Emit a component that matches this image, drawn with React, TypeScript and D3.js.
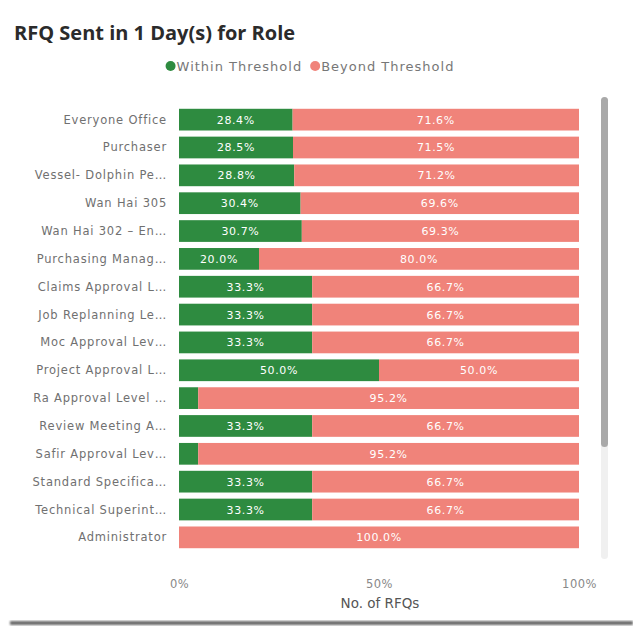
import { useEffect, useRef } from "react";
import * as d3 from "d3";

const roles = [
  "Everyone Office",
  "Purchaser",
  "Vessel- Dolphin Pe…",
  "Wan Hai 305",
  "Wan Hai 302 – En…",
  "Purchasing Manag…",
  "Claims Approval L…",
  "Job Replanning Le…",
  "Moc Approval Lev…",
  "Project Approval L…",
  "Ra Approval Level …",
  "Review Meeting A…",
  "Safir Approval Lev…",
  "Standard Specifica…",
  "Technical Superint…",
  "Administrator",
];
const within = [28.4, 28.5, 28.8, 30.4, 30.7, 20.0, 33.3, 33.3, 33.3, 50.0, 4.8, 33.3, 4.8, 33.3, 33.3, 0];
const beyond = [71.6, 71.5, 71.2, 69.6, 69.3, 80.0, 66.7, 66.7, 66.7, 50.0, 95.2, 66.7, 95.2, 66.7, 66.7, 100.0];
const xTicks = [0, 50, 100];

const GREEN = "#2e8b40";
const RED = "#f0837a";
const TITLE_FONT = "'Open Sans', 'Noto Sans', sans-serif";
const FONT = "'DejaVu Sans', Verdana, sans-serif";

export default function App() {
  const ref = useRef<SVGSVGElement>(null);

  useEffect(() => {
    const el = ref.current;
    if (!el) return;
    const W = 633, H = 629;
    const M = { top: 106, right: 54, bottom: 78, left: 179 };

    const svg = d3.select(el);
    svg.selectAll("*").remove();
    svg.attr("width", W).attr("height", H).attr("viewBox", `0 0 ${W} ${H}`);

    svg.append("rect").attr("width", W).attr("height", H).attr("fill", "#fff");

    // bottom shadow of the card
    const defs = svg.append("defs");
    defs.append("filter").attr("id", "blur").append("feGaussianBlur").attr("stdDeviation", 1.2);
    svg.append("rect")
      .attr("x", 10).attr("y", 621).attr("width", W - 10).attr("height", 4)
      .attr("fill", "#6b6b6b").attr("filter", "url(#blur)");

    // Title
    svg.append("text")
      .attr("x", 14).attr("y", 40)
      .attr("font-family", TITLE_FONT).attr("font-size", 20).attr("font-weight", 700)
      .attr("fill", "#2b2b2b")
      .text("RFQ Sent in 1 Day(s) for Role");

    // Legend, laid out from measured text widths and centred
    const leg = svg.append("g");
    let cx = 0;
    [["Within Threshold", GREEN], ["Beyond Threshold", RED]].forEach(([l, c], i) => {
      if (i > 0) cx += 8;
      leg.append("circle").attr("cx", cx + 5).attr("cy", 0).attr("r", 5).attr("fill", c);
      const t = leg.append("text").attr("x", cx + 11).attr("y", 4.5)
        .attr("font-family", FONT).attr("font-size", 13).attr("letter-spacing", 1)
        .attr("fill", "#777")
        .text(l);
      cx += 11 + (t.node() as SVGTextElement).getComputedTextLength();
    });
    leg.attr("transform", `translate(${310 - cx / 2},66)`);

    const x = d3.scaleLinear().domain([0, 100]).range([M.left, W - M.right]);
    const y = d3.scaleBand()
      .domain(roles)
      .range([M.top, H - M.bottom])
      .paddingInner(0.22)
      .paddingOuter(0.1);

    const rows = roles.map((r, i) => ({ role: r, within: within[i], beyond: beyond[i] }));

    // Y labels
    svg.append("g")
      .selectAll("text")
      .data(rows)
      .join("text")
      .attr("x", M.left - 12)
      .attr("y", (d) => y(d.role)! + y.bandwidth() / 2 + 4)
      .attr("text-anchor", "end")
      .attr("font-family", FONT).attr("font-size", 11.5).attr("letter-spacing", 0.8)
      .attr("fill", "#707070")
      .text((d) => d.role);

    // Within bars
    svg.append("g").selectAll("rect")
      .data(rows).join("rect")
      .attr("x", x(0))
      .attr("y", (d) => y(d.role)!)
      .attr("width", (d) => x(d.within) - x(0))
      .attr("height", y.bandwidth())
      .attr("fill", GREEN);

    // Beyond bars
    svg.append("g").selectAll("rect")
      .data(rows).join("rect")
      .attr("x", (d) => x(d.within))
      .attr("y", (d) => y(d.role)!)
      .attr("width", (d) => x(d.within + d.beyond) - x(d.within))
      .attr("height", y.bandwidth())
      .attr("fill", RED);

    // Value labels
    const lab = svg.append("g")
      .attr("font-family", FONT).attr("font-size", 11).attr("fill", "#fff")
      .attr("letter-spacing", 0.6)
      .attr("text-anchor", "middle");
    lab.selectAll("text.w")
      .data(rows.filter((d) => d.within >= 10)).join("text").attr("class", "w")
      .attr("x", (d) => (x(0) + x(d.within)) / 2)
      .attr("y", (d) => y(d.role)! + y.bandwidth() / 2 + 4)
      .text((d) => `${d.within.toFixed(1)}%`);
    lab.selectAll("text.b")
      .data(rows).join("text").attr("class", "b")
      .attr("x", (d) => (x(d.within) + x(d.within + d.beyond)) / 2)
      .attr("y", (d) => y(d.role)! + y.bandwidth() / 2 + 4)
      .text((d) => `${d.beyond.toFixed(1)}%`);

    // X axis
    svg.append("g")
      .attr("transform", `translate(0,${H - M.bottom + 26})`)
      .call(d3.axisBottom(x).tickValues(xTicks).tickSize(0).tickFormat((v) => `${v}%`))
      .call((g) => g.select(".domain").remove())
      .call((g) => g.selectAll(".tick text")
        .attr("fill", "#888").attr("font-family", FONT).attr("letter-spacing", 0.5)
        .style("font-size", "11.5px"));

    svg.append("text")
      .attr("x", x(50) + 1).attr("y", 608)
      .attr("text-anchor", "middle")
      .attr("font-family", FONT).attr("font-size", 13.5).attr("fill", "#555")
      .text("No. of RFQs");

    // Scrollbar
    svg.append("rect").attr("x", 601).attr("y", 97).attr("width", 7).attr("height", 462)
      .attr("rx", 3.5).attr("fill", "#f0f0f0");
    svg.append("rect").attr("x", 601).attr("y", 97).attr("width", 7).attr("height", 350)
      .attr("rx", 3.5).attr("fill", "#a9a9a9");
  }, []);

  return (
    <div style={{ position: "fixed", left: 0, top: 0, background: "#fff" }}>
      <svg ref={ref} style={{ display: "block" }} />
    </div>
  );
}
